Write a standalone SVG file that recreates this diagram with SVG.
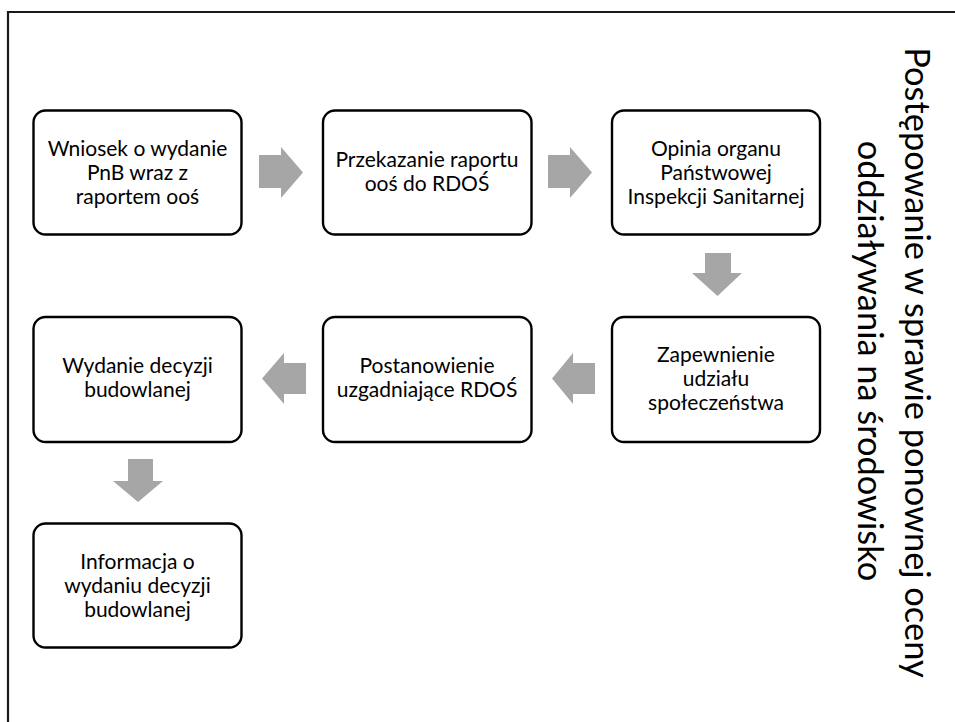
<svg xmlns="http://www.w3.org/2000/svg" width="955" height="722" viewBox="0 0 955 722">
<style>
.box{fill:#fff;stroke:#000;stroke-width:2.4}
.arr{fill:#a6a6a6;stroke:none}
.t{font-family:Lato,"Liberation Sans",sans-serif;font-size:21px;fill:#000;text-anchor:middle}
.title{font-family:Lato,"Liberation Sans",sans-serif;font-size:34.4px;fill:#000;text-anchor:middle}
</style>
<rect width="955" height="722" fill="#fff"/>
<path d="M8 722 V12 H955" fill="none" stroke="#1a1a1a" stroke-width="2.2"/>
<g id="title">
<text class="title" transform="translate(905,362.5) rotate(90)">Postępowanie w sprawie ponownej oceny</text>
<text class="title" transform="translate(858,361) rotate(90)">oddziaływania na środowisko</text>
</g>
<g id="connectors">
<polygon class="arr" points="259,155 281,155 281,147 303,172.5 281,198 281,188 259,188"/>
<polygon class="arr" points="548,155 570,155 570,147 592,172.5 570,198 570,188 548,188"/>
<polygon class="arr" points="705,253 731,253 731,273 742,273 717.5,296 692,273 705,273"/>
<polygon class="arr" points="595,363 573,363 573,353 552,378.5 573,404 573,394 595,394"/>
<polygon class="arr" points="306,363 284,363 284,353 262,378.5 284,404 284,394 306,394"/>
<polygon class="arr" points="128,459 153,459 153,481 163,481 138,502 113,481 128,481"/>
</g>
<g id="n1"><rect class="box" x="33.5" y="110.5" width="208" height="124" rx="12"/>
<text class="t" x="137.5" y="155.5">Wniosek o wydanie</text>
<text class="t" x="137.5" y="179.5">PnB wraz z</text>
<text class="t" x="137.5" y="203.5">raportem ooś</text></g>
<g id="n2"><rect class="box" x="323" y="110.5" width="208.5" height="124" rx="12"/>
<text class="t" x="427" y="166.5">Przekazanie raportu</text>
<text class="t" x="427" y="190.5">ooś do RDOŚ</text></g>
<g id="n3"><rect class="box" x="612" y="110.5" width="208" height="124" rx="12"/>
<text class="t" x="716" y="155.5">Opinia organu</text>
<text class="t" x="716" y="179.5">Państwowej</text>
<text class="t" x="716" y="203.5">Inspekcji Sanitarnej</text></g>
<g id="n4"><rect class="box" x="612" y="317" width="208" height="125" rx="12"/>
<text class="t" x="716" y="362">Zapewnienie</text>
<text class="t" x="716" y="386">udziału</text>
<text class="t" x="716" y="410">społeczeństwa</text></g>
<g id="n5"><rect class="box" x="323" y="317" width="208.5" height="125" rx="12"/>
<text class="t" x="427" y="373">Postanowienie</text>
<text class="t" x="427" y="397">uzgadniające RDOŚ</text></g>
<g id="n6"><rect class="box" x="33.5" y="317" width="208" height="125" rx="12"/>
<text class="t" x="137.5" y="373">Wydanie decyzji</text>
<text class="t" x="137.5" y="397">budowlanej</text></g>
<g id="n7"><rect class="box" x="33.5" y="523.5" width="208" height="124" rx="12"/>
<text class="t" x="137.5" y="568.5">Informacja o</text>
<text class="t" x="137.5" y="592.5">wydaniu decyzji</text>
<text class="t" x="137.5" y="616.5">budowlanej</text></g>
</svg>
